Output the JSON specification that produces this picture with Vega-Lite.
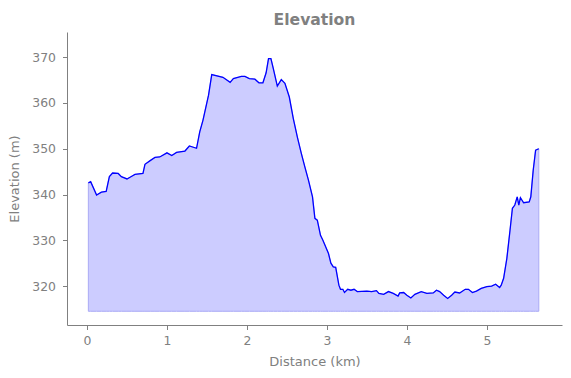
{
  "$schema": "https://vega.github.io/schema/vega-lite/v6.json",
  "width": 495,
  "height": 293,
  "autosize": {"type": "none"},
  "padding": {"left": 67, "top": 32, "right": 9, "bottom": 53},
  "title": {"text": "Elevation", "font": "DejaVu Sans", "fontSize": 15.6, "fontWeight": "bold", "color": "#808080", "anchor": "middle", "offset": 3},
  "config": {
    "view": {"stroke": null},
    "axis": {"domainColor": "#808080", "tickColor": "#808080", "labelColor": "#808080", "titleColor": "#808080", "labelFont": "DejaVu Sans", "titleFont": "DejaVu Sans", "labelFontSize": 12.4, "titleFontSize": 13, "titleFontWeight": "normal", "grid": false, "tickSize": 4.5, "domainWidth": 1}
  },
  "data": {"values": [
    {"d": 0.017, "e": 342.55}, {"d": 0.046, "e": 342.8}, {"d": 0.12, "e": 339.9}, {"d": 0.18, "e": 340.5}, {"d": 0.24, "e": 340.7},
    {"d": 0.28, "e": 343.9}, {"d": 0.32, "e": 344.7}, {"d": 0.39, "e": 344.6}, {"d": 0.43, "e": 343.9}, {"d": 0.5, "e": 343.4},
    {"d": 0.56, "e": 344.0}, {"d": 0.6, "e": 344.4}, {"d": 0.7, "e": 344.6}, {"d": 0.725, "e": 346.6}, {"d": 0.79, "e": 347.4},
    {"d": 0.85, "e": 348.1}, {"d": 0.91, "e": 348.2}, {"d": 1.0, "e": 349.1}, {"d": 1.06, "e": 348.5}, {"d": 1.12, "e": 349.2},
    {"d": 1.225, "e": 349.5}, {"d": 1.28, "e": 350.6}, {"d": 1.37, "e": 350.1}, {"d": 1.41, "e": 353.7}, {"d": 1.45, "e": 356.2},
    {"d": 1.52, "e": 361.7}, {"d": 1.56, "e": 366.2}, {"d": 1.7, "e": 365.6}, {"d": 1.79, "e": 364.5}, {"d": 1.83, "e": 365.3},
    {"d": 1.93, "e": 365.8}, {"d": 1.975, "e": 365.8}, {"d": 2.03, "e": 365.3}, {"d": 2.1, "e": 365.2}, {"d": 2.15, "e": 364.4},
    {"d": 2.2, "e": 364.4}, {"d": 2.24, "e": 366.6}, {"d": 2.27, "e": 369.7}, {"d": 2.3, "e": 369.7}, {"d": 2.33, "e": 367.5},
    {"d": 2.38, "e": 363.7}, {"d": 2.43, "e": 365.1}, {"d": 2.475, "e": 364.3}, {"d": 2.53, "e": 361.3}, {"d": 2.58, "e": 356.6},
    {"d": 2.63, "e": 352.6}, {"d": 2.68, "e": 349.0}, {"d": 2.725, "e": 346.0}, {"d": 2.77, "e": 343.1}, {"d": 2.82, "e": 339.5},
    {"d": 2.85, "e": 334.8}, {"d": 2.88, "e": 334.4}, {"d": 2.92, "e": 331.1}, {"d": 2.95, "e": 330.0}, {"d": 3.02, "e": 327.1},
    {"d": 3.05, "e": 325.0}, {"d": 3.08, "e": 324.2}, {"d": 3.11, "e": 324.1}, {"d": 3.15, "e": 320.2}, {"d": 3.17, "e": 319.3},
    {"d": 3.2, "e": 319.3}, {"d": 3.22, "e": 318.6}, {"d": 3.26, "e": 319.3}, {"d": 3.3, "e": 319.1}, {"d": 3.34, "e": 319.3},
    {"d": 3.38, "e": 318.8}, {"d": 3.5, "e": 318.9}, {"d": 3.56, "e": 318.8}, {"d": 3.62, "e": 319.0}, {"d": 3.65, "e": 318.4},
    {"d": 3.71, "e": 318.2}, {"d": 3.77, "e": 318.8}, {"d": 3.83, "e": 318.4}, {"d": 3.89, "e": 317.8}, {"d": 3.91, "e": 318.5},
    {"d": 3.96, "e": 318.6}, {"d": 4.0, "e": 318.0}, {"d": 4.05, "e": 317.4}, {"d": 4.1, "e": 318.2}, {"d": 4.18, "e": 318.8},
    {"d": 4.25, "e": 318.4}, {"d": 4.33, "e": 318.5}, {"d": 4.37, "e": 319.1}, {"d": 4.41, "e": 318.8}, {"d": 4.46, "e": 318.0},
    {"d": 4.51, "e": 317.3}, {"d": 4.56, "e": 318.0}, {"d": 4.6, "e": 318.7}, {"d": 4.66, "e": 318.5}, {"d": 4.73, "e": 319.3},
    {"d": 4.77, "e": 319.3}, {"d": 4.82, "e": 318.6}, {"d": 4.87, "e": 318.9}, {"d": 4.93, "e": 319.5}, {"d": 5.0, "e": 319.9},
    {"d": 5.06, "e": 320.0}, {"d": 5.11, "e": 320.4}, {"d": 5.16, "e": 319.7}, {"d": 5.18, "e": 320.2}, {"d": 5.21, "e": 321.7},
    {"d": 5.25, "e": 326.0}, {"d": 5.29, "e": 332.2}, {"d": 5.32, "e": 337.0}, {"d": 5.35, "e": 337.7}, {"d": 5.38, "e": 339.5},
    {"d": 5.4, "e": 337.7}, {"d": 5.42, "e": 339.3}, {"d": 5.46, "e": 338.2}, {"d": 5.53, "e": 338.4}, {"d": 5.55, "e": 339.5},
    {"d": 5.58, "e": 345.3}, {"d": 5.61, "e": 349.7}, {"d": 5.65, "e": 350.0}
  ]},
  "encoding": {
    "x": {"field": "d", "type": "quantitative", "title": "Distance (km)", "scale": {"domain": [-0.25, 5.94], "nice": false, "zero": false}, "axis": {"values": [0, 1, 2, 3, 4, 5], "format": "d", "labelPadding": 5, "titlePadding": 9}},
    "y": {"field": "e", "type": "quantitative", "title": "Elevation (m)", "scale": {"domain": [311.5, 375.5], "nice": false, "zero": false}, "axis": {"values": [320, 330, 340, 350, 360, 370], "format": "d", "labelPadding": 7, "titlePadding": 10}}
  },
  "layer": [
    {"mark": {"type": "area", "color": "#ccccff", "stroke": "#aaaaf5", "strokeWidth": 1, "opacity": 1}, "encoding": {"y2": {"datum": 314.5}}},
    {"mark": {"type": "line", "color": "#0000ff", "strokeWidth": 1.3}}
  ]
}
